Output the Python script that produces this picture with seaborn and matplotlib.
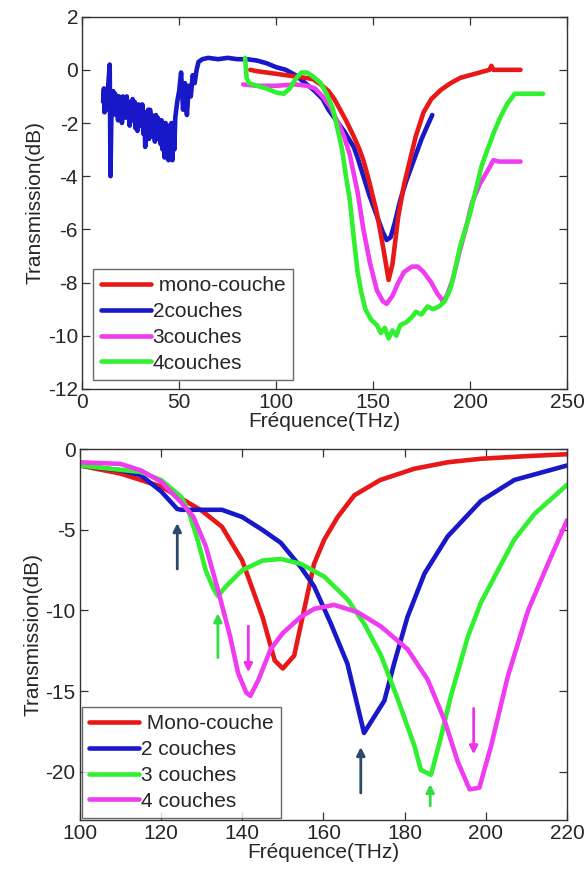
import numpy as np
import pandas as pd
import seaborn as sns
import matplotlib.pyplot as plt

# ---- top panel: measured transmission ----
top_labels = [' mono-couche', '2couches', '3couches', '4couches']
top_colors = ['#e81818', '#1818c8', '#f03cf0', '#30f030']

top_mono_f = [86.6, 90, 95, 100, 105, 110, 115, 119, 123, 127, 130, 133, 136, 140, 143, 145, 148,
              152, 155, 158, 160, 163, 166, 169, 172, 176, 180, 185, 190, 195, 200, 205, 210, 211,
              212, 218, 226]
top_mono_db = [0.0, -0.05, -0.1, -0.15, -0.2, -0.25, -0.3, -0.35, -0.55, -0.8, -1.1, -1.5, -1.9,
               -2.5, -3.0, -3.4, -4.2, -5.4, -6.6, -7.9, -7.3, -5.5, -4.3, -3.4, -2.5, -1.6, -1.1,
               -0.75, -0.5, -0.3, -0.2, -0.1, 0.0, 0.15, 0.0, 0.0, 0.0]

top_two_f = [10.8, 11.2, 11.5, 12, 12.5, 13, 13.5, 14.2, 14.6, 15.2, 15.6, 16, 16.5, 17, 17.5,
             18, 18.5, 19, 19.5, 20, 20.5, 21, 21.5, 22, 22.5, 23, 23.5, 24, 24.5, 25, 25.5, 26,
             26.5, 27, 27.5, 28, 28.5, 29, 29.5, 30, 30.5, 31, 31.5, 32, 32.5, 33, 33.5, 34, 34.5,
             35, 35.5, 36, 36.5, 37, 37.5, 38, 38.5, 39, 39.5, 40, 40.5, 41, 41.5, 42, 42.5, 43,
             43.5, 44, 44.5, 45, 45.5, 46, 46.5, 47, 47.5, 48, 49, 50, 51, 52, 53, 54, 55, 56, 57,
             58, 59, 60, 62, 65, 70, 75, 80, 85, 90, 95, 100, 105, 110, 115, 120, 124, 127, 130,
             135, 140, 142, 145, 148, 152, 155, 157, 159, 161, 164, 167, 171, 175, 178, 180.5]
top_two_db = [-1.2, -0.7, -1.6, -0.8, -1.5, -1.0, -0.5, 0.2, -4.0, -1.0, -1.7, -0.8, -1.5, -0.9,
              -1.7, -1.0, -1.9, -1.0, -1.6, -1.1, -2.0, -1.0, -1.7, -1.1, -1.8, -1.0, -1.7, -1.3,
              -2.1, -1.2, -1.9, -1.1, -1.9, -1.2, -2.2, -1.4, -2.3, -1.3, -2.0, -1.4, -2.1, -1.3,
              -2.4, -1.6, -2.9, -1.6, -2.2, -1.5, -2.6, -1.5, -2.3, -1.7, -2.5, -1.8, -2.7, -1.7,
              -2.3, -1.8, -2.6, -1.9, -2.8, -1.9, -3.0, -2.0, -3.3, -2.0, -2.9, -2.1, -3.4, -2.1,
              -3.2, -2.0, -3.4, -2.0, -3.0, -1.8, -1.2, -0.8, -0.1, -1.5, -0.5, -1.7, -0.6, -1.0,
              -0.2, -0.5, 0.0, 0.3, 0.4, 0.45, 0.4, 0.45, 0.4, 0.4, 0.35, 0.25, 0.1, 0.0, -0.2,
              -0.5, -0.8, -1.1, -1.5, -1.8, -2.3, -2.9, -3.3, -4.0, -4.7, -5.5, -6.1, -6.4, -6.3,
              -5.8, -4.9, -4.2, -3.4, -2.6, -2.1, -1.7]

top_three_f = [83, 90, 100, 110, 116, 120, 124, 128, 132, 135, 138, 142, 145, 148.5, 152, 155,
               157, 160, 163, 166, 170, 173, 176, 180, 183, 186, 188, 191, 194, 198, 201, 205,
               209, 212, 215, 226]
top_three_db = [-0.55, -0.6, -0.6, -0.55, -0.6, -0.7, -1.0, -1.4, -2.0, -2.5, -3.2, -4.6, -6.0,
                -7.3, -8.3, -8.7, -8.8, -8.5, -8.0, -7.6, -7.4, -7.4, -7.6, -8.0, -8.4, -8.7,
                -8.5, -7.9, -7.0, -5.9, -5.0, -4.3, -3.8, -3.4, -3.45, -3.45]

top_four_f = [84, 84.8, 86, 90, 95, 100, 104, 107, 110, 113, 116, 119, 123, 126, 129, 131, 134,
              136, 138, 140, 142, 144, 146, 149, 152, 154, 156, 158, 160, 162, 164, 167, 170, 172,
              175, 178, 181, 184, 187, 190, 192, 195, 198, 200, 203, 206, 209, 212, 215.5, 219,
              223, 237.6]
top_four_db = [0.45, -0.3, -0.5, -0.6, -0.7, -0.85, -0.9, -0.7, -0.35, -0.1, -0.1, -0.25, -0.5,
               -0.9, -1.4, -2.0, -3.0, -4.0, -4.9, -6.3, -7.6, -8.4, -9.0, -9.4, -9.6, -9.9, -9.7,
               -10.1, -9.8, -10.0, -9.6, -9.5, -9.3, -9.1, -9.2, -8.9, -9.0, -8.9, -8.7, -8.2,
               -7.6, -6.6, -5.9, -5.4, -4.5, -3.6, -3.0, -2.4, -1.8, -1.3, -0.9, -0.9]

# ---- bottom panel: simulated transmission ----
bot_labels = [' Mono-couche', '2 couches', '3 couches', '4 couches']
bot_colors = ['#e81818', '#1818c8', '#30f030', '#f03cf0']

bot_mono_f = [100, 110, 120, 125, 130, 135, 140, 145, 148, 150, 152.8, 155.2, 157.7, 160.2,
              163.5, 167.6, 174, 182.4, 190.6, 198.8, 210, 220]
bot_mono_db = [-1.0, -1.5, -2.3, -3.05, -3.8, -4.8, -6.9, -10.4, -13.1, -13.6, -12.8, -10.0,
               -7.1, -5.6, -4.2, -2.85, -1.9, -1.2, -0.8, -0.58, -0.42, -0.3]

bot_two_f = [100, 110, 115, 120, 124, 125, 135, 140, 145, 149.5, 154.4, 157.7, 161.8, 165.9,
             170, 175, 177.4, 180.7, 184.9, 190.6, 198.8, 207, 220]
bot_two_db = [-1.0, -1.3, -1.6, -2.6, -3.7, -3.75, -3.75, -4.2, -5.0, -5.8, -7.3, -8.5, -10.8,
              -13.3, -17.6, -15.6, -13.3, -10.4, -7.7, -5.4, -3.2, -1.9, -1.0]

bot_three_f = [100, 115, 120, 125, 127, 129, 131, 133, 134, 136, 140, 145, 149.5, 154.4, 160.2,
               165.9, 170, 174.2, 178.3, 182.4, 184, 186.5, 189, 191.4, 195.6, 198.8, 203, 207,
               212, 220]
bot_three_db = [-1.0, -1.4, -1.9, -2.95, -4.0, -5.6, -7.5, -8.7, -9.1, -8.5, -7.5, -6.9, -6.8,
                -7.1, -7.9, -9.3, -10.8, -12.8, -15.5, -18.4, -19.9, -20.2, -17.8, -15.3, -11.6,
                -9.5, -7.5, -5.6, -4.0, -2.2]

bot_four_f = [100, 110, 115, 120, 125, 128, 131, 134, 137, 139, 141, 142, 144, 147, 150, 154.4,
              157.7, 162.6, 168.4, 174.2, 180.7, 185.7, 189.8, 193.1, 196, 198.4, 201.3, 205.4,
              210.4, 215.3, 220]
bot_four_db = [-0.8, -0.9, -1.3, -2.0, -3.3, -4.2, -6.0, -8.7, -11.6, -13.9, -15.1, -15.3,
               -14.3, -12.4, -11.4, -10.4, -9.9, -9.65, -10.1, -11.0, -12.4, -14.3, -16.8, -19.4,
               -21.1, -21.0, -18.4, -14.1, -10.0, -7.1, -4.4]

# arrows: x, start y, end y, colour
arrow_x = [124, 134, 141.5, 169.2, 186.3, 197]
arrow_y0 = [-7.6, -13.1, -10.8, -21.5, -22.3, -15.9]
arrow_y1 = [-4.4, -10.0, -14.0, -18.3, -20.6, -19.1]
arrow_colors = ['#2e4a6a', '#33dd44', '#ee33ee', '#2e4a6a', '#33dd44', '#ee33ee']

sns.set_style('ticks')
plt.rcParams['font.family'] = ['Liberation Sans', 'DejaVu Sans']
plt.rcParams['font.size'] = 15
plt.rcParams['axes.unicode_minus'] = False
plt.rcParams['xtick.direction'] = 'in'
plt.rcParams['ytick.direction'] = 'in'

fig = plt.figure(figsize=(5.87, 8.76), dpi=100)
ax1 = fig.add_axes([0.140, 0.556, 0.826, 0.425])
ax2 = fig.add_axes([0.136, 0.064, 0.830, 0.423])

top_series = [(top_mono_f, top_mono_db), (top_two_f, top_two_db),
              (top_three_f, top_three_db), (top_four_f, top_four_db)]
bot_series = [(bot_mono_f, bot_mono_db), (bot_two_f, bot_two_db),
              (bot_three_f, bot_three_db), (bot_four_f, bot_four_db)]

# draw order in top panel: blue, red, magenta, green
for i in [1, 0, 2, 3]:
    f, db = top_series[i]
    sns.lineplot(x=f, y=db, ax=ax1, color=top_colors[i], lw=3.3, sort=False,
                 estimator=None, label=top_labels[i])
for i in range(4):
    f, db = bot_series[i]
    sns.lineplot(x=f, y=db, ax=ax2, color=bot_colors[i], lw=3.3, sort=False,
                 estimator=None, label=bot_labels[i])

for x, y0, y1, c in zip(arrow_x, arrow_y0, arrow_y1, arrow_colors):
    ax2.annotate('', xy=(x, y1), xytext=(x, y0),
                 arrowprops=dict(arrowstyle='-|>', color=c, lw=2, mutation_scale=12))

ax1.set_xlim(0, 250)
ax1.set_ylim(-12, 2)
ax1.set_xticks(np.arange(0, 251, 50))
ax1.set_yticks(np.arange(-12, 3, 2))
ax2.set_xlim(100, 220)
ax2.set_ylim(-23, 0)
ax2.set_xticks(np.arange(100, 221, 20))
ax2.set_yticks([-20, -15, -10, -5, 0])

for ax in (ax1, ax2):
    ax.set_xlabel('Fréquence(THz)', fontsize=15, labelpad=0)
    ax.set_ylabel('Transmission(dB)', fontsize=15, labelpad=2)
    ax.tick_params(which='major', direction='in', top=True, right=True, bottom=True,
                   left=True, length=6, width=0.9, labelsize=15, pad=3, color='#333333')
    for s in ax.spines.values():
        s.set_visible(True)
        s.set_color('#333333')
        s.set_linewidth(1.0)

legend_kw = dict(loc='lower left', fontsize=15, handlelength=2.4, handletextpad=0.1,
                 labelspacing=0.33, borderpad=0.35, frameon=True, fancybox=False,
                 edgecolor='#444444', borderaxespad=0)
h, l = ax1.get_legend_handles_labels()
order = [l.index(t) for t in top_labels]
leg1 = ax1.legend([h[k] for k in order], [l[k] for k in order],
                  bbox_to_anchor=(0.023, 0.024), **legend_kw)
leg1.get_frame().set_linewidth(1.0)
leg2 = ax2.legend(bbox_to_anchor=(0.004, 0.005), **legend_kw)
leg2.get_frame().set_linewidth(1.0)

fig.savefig('out.png', dpi=100)
